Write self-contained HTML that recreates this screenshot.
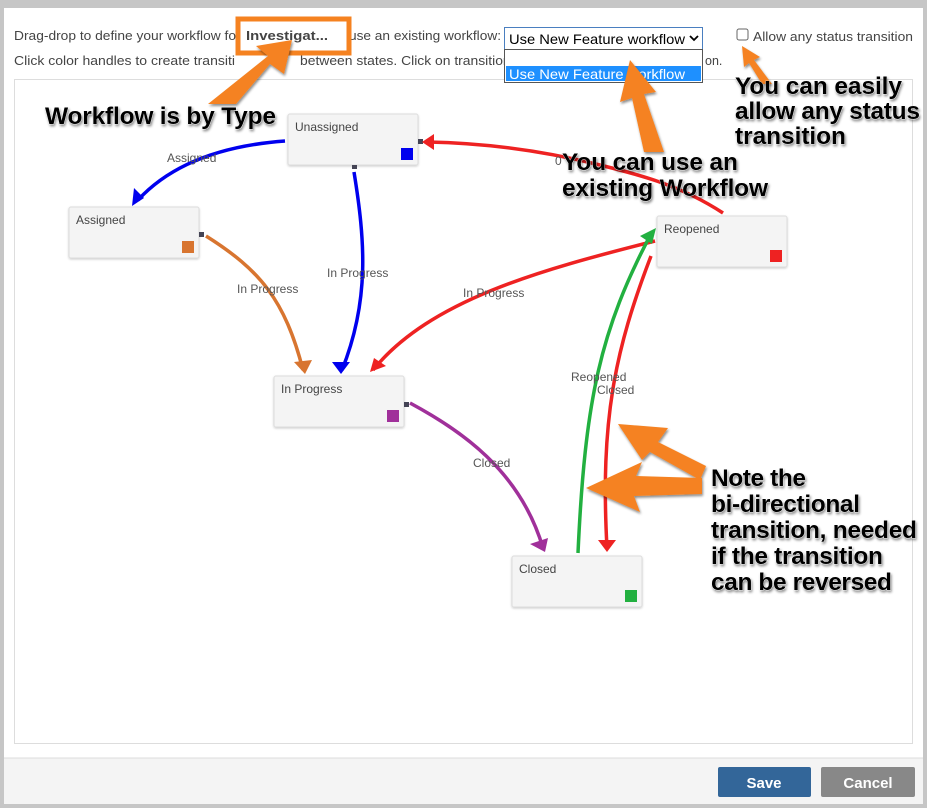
<!DOCTYPE html>
<html><head><meta charset="utf-8"><style>
body{margin:0;width:927px;height:808px;overflow:hidden;background:#c6c6c6;font-family:"Liberation Sans",sans-serif}
svg{position:absolute;left:0;top:0}
</style></head><body>
<svg width="927" height="808" viewBox="0 0 927 808" xmlns="http://www.w3.org/2000/svg" font-family="Liberation Sans, sans-serif">
<defs>
<filter id="sh" x="-10%" y="-30%" width="120%" height="160%"><feDropShadow dx="1" dy="2" stdDeviation="1.2" flood-color="#000" flood-opacity="0.45"/></filter>
<filter id="bs"><feDropShadow dx="0" dy="1" stdDeviation="1" flood-color="#000" flood-opacity="0.2"/></filter>
</defs>
<rect x="4" y="8" width="919" height="796" fill="#fff"/>
<rect x="4" y="758" width="919" height="46" fill="#f4f4f4"/>
<line x1="4" y1="758" x2="923" y2="758" stroke="#ddd"/>
<rect x="14.5" y="79.5" width="898" height="664" fill="#fff" stroke="#ddd"/>
<g font-size="12.5" fill="#444">
<text x="14" y="40" textLength="222" lengthAdjust="spacingAndGlyphs">Drag-drop to define your workflow fo</text>
<text x="333" y="40" textLength="168" lengthAdjust="spacingAndGlyphs">or use an existing workflow:</text>
<text x="14" y="65" textLength="221" lengthAdjust="spacingAndGlyphs">Click color handles to create transiti</text>
<text x="300" y="65" textLength="250" lengthAdjust="spacingAndGlyphs">between states. Click on transitions lines</text>
<text x="705" y="65">on.</text>
<text x="753" y="41" textLength="160" lengthAdjust="spacingAndGlyphs">Allow any status transition</text>
</g>
<rect x="737" y="29" width="11" height="11" rx="2" fill="#fff" stroke="#666"/>
<rect x="238" y="19" width="111" height="34" fill="#fff" stroke="#f58220" stroke-width="5"/>
<text x="246" y="40" font-size="13" font-weight="bold" fill="#444" textLength="82" lengthAdjust="spacingAndGlyphs">Investigat...</text>
<rect x="504.5" y="27.5" width="198" height="22" fill="#fff" stroke="#4a7fc0"/>
<text x="509" y="44" font-size="14" fill="#000" textLength="176" lengthAdjust="spacingAndGlyphs">Use New Feature workflow</text>
<path d="M690 36 l4 4 l4 -4" fill="none" stroke="#000" stroke-width="1.8"/>
<rect x="504.5" y="49.5" width="198" height="33" fill="#fff" stroke="#555"/>
<rect x="506" y="66" width="195" height="15" fill="#1e90ff"/>
<text x="509" y="79" font-size="14" fill="#fff" textLength="176" lengthAdjust="spacingAndGlyphs">Use New Feature workflow</text>

<g font-size="12" fill="#444">
<g filter="url(#bs)">
<rect x="288" y="114" width="130" height="51" rx="2" fill="#f4f4f4" stroke="#ddd"/>
<rect x="69" y="207" width="130" height="51" rx="2" fill="#f4f4f4" stroke="#ddd"/>
<rect x="657" y="216" width="130" height="51" rx="2" fill="#f4f4f4" stroke="#ddd"/>
<rect x="274" y="376" width="130" height="51" rx="2" fill="#f4f4f4" stroke="#ddd"/>
<rect x="512" y="556" width="130" height="51" rx="2" fill="#f4f4f4" stroke="#ddd"/>
</g>
<text x="295" y="131">Unassigned</text><rect x="401" y="148" width="12" height="12" fill="#0000ee"/>
<text x="76" y="224">Assigned</text><rect x="182" y="241" width="12" height="12" fill="#d87530"/>
<text x="664" y="233">Reopened</text><rect x="770" y="250" width="12" height="12" fill="#ee2222"/>
<text x="281" y="393">In Progress</text><rect x="387" y="410" width="12" height="12" fill="#a0309a"/>
<text x="519" y="573">Closed</text><rect x="625" y="590" width="12" height="12" fill="#22b040"/>
</g>
<g fill="#445">
<rect x="418" y="139" width="5" height="5"/><rect x="352" y="165" width="5" height="4"/>
<rect x="199" y="232" width="5" height="5"/><rect x="404" y="402" width="5" height="5"/>
</g>
<g fill="none" stroke-width="3.5">
<path d="M285 141 C230 145 175 160 138 200" stroke="#0000ee"/>
<path d="M354 172 C365 240 370 300 342 370" stroke="#0000ee"/>
<path d="M206 236 C260 270 285 300 303 370" stroke="#d87530"/>
<path d="M655 241 C540 270 430 300 373 370" stroke="#ee2222"/>
<path d="M723 213 C680 185 640 175 600 165 C540 150 480 143 428 142" stroke="#ee2222"/>
<path d="M410 403 C460 430 520 470 543 548" stroke="#a0309a"/>
<path d="M578 553 C585 400 600 330 652 232" stroke="#22b040"/>
<path d="M651 256 C615 350 600 420 607 548" stroke="#ee2222"/>
</g>
<g>
<polygon points="132,206 134,188 144,198" fill="#0000ee"/>
<polygon points="341,374 332,362 350,362" fill="#0000ee"/>
<polygon points="305,374 294,362 312,360" fill="#d87530"/>
<polygon points="370,372 374,358 386,366" fill="#ee2222"/>
<polygon points="422,142 434,134 434,150" fill="#ee2222"/>
<polygon points="545,552 530,544 548,538" fill="#a0309a"/>
<polygon points="656,228 640,236 652,244" fill="#22b040"/>
<polygon points="607,552 598,540 616,540" fill="#ee2222"/>
</g>
<g font-size="12" fill="#555">
<text x="167" y="162">Assigned</text>
<text x="327" y="277">In Progress</text>
<text x="237" y="293">In Progress</text>
<text x="463" y="297">In Progress</text>
<text x="555" y="165">0</text>
<text x="571" y="381">Reopened</text>
<text x="597" y="394">Closed</text>
<text x="473" y="467">Closed</text>
</g>
<g fill="#f58220" filter="url(#sh)">
<polygon points="208,104 236,104 270,64 284,74 292,40 256,46 268,56"/>
<polygon points="664,152 644,152 632,98 620,102 630,60 656,92 644,94"/>
<polygon points="762,84 772,84 754,60 760,57 742,46 744,67 749,63"/>
<polygon points="700,480 706,466 658,442 668,428 618,424 642,460 650,452"/>
<polygon points="702,494 702,478 636,476 642,462 586,488 640,512 634,496"/>
</g>
<g font-size="24.5" font-weight="bold" fill="#000" filter="url(#sh)" stroke="#fff" stroke-width="0.6" paint-order="stroke" lengthAdjust="spacingAndGlyphs">
<text x="45" y="124" textLength="231">Workflow is by Type</text>
<text x="562" y="170" textLength="176">You can use an</text>
<text x="562" y="196" textLength="206">existing Workflow</text>
<text x="735" y="94" textLength="167">You can easily</text>
<text x="735" y="119" textLength="185">allow any status</text>
<text x="735" y="144" textLength="111">transition</text>
<text x="711" y="486" textLength="95">Note the</text>
<text x="711" y="512" textLength="149">bi-directional</text>
<text x="711" y="538" textLength="206">transition, needed</text>
<text x="711" y="564" textLength="172">if the transition</text>
<text x="711" y="590" textLength="181">can be reversed</text>
</g>
<rect x="718" y="767" width="93" height="30" rx="2" fill="#336699"/>
<text x="764" y="788" font-size="15" font-weight="bold" fill="#fff" text-anchor="middle">Save</text>
<rect x="821" y="767" width="94" height="30" rx="2" fill="#888"/>
<text x="868" y="788" font-size="15" font-weight="bold" fill="#fff" text-anchor="middle">Cancel</text>
</svg>
</body></html>
